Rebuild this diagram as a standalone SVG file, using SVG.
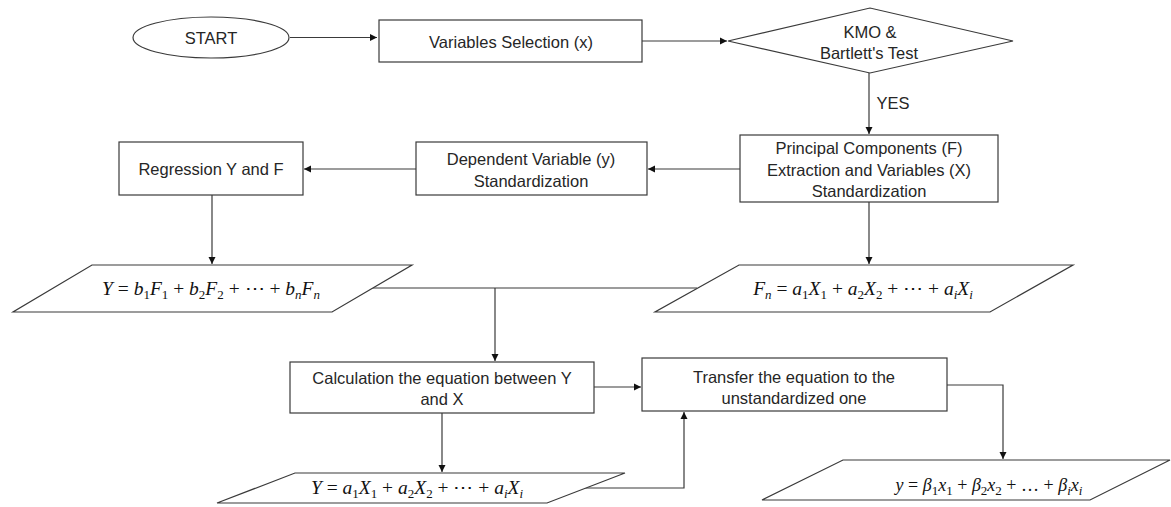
<svg xmlns="http://www.w3.org/2000/svg" width="1171" height="507" viewBox="0 0 1171 507">
<style>
.shape{fill:#fff;stroke:#3a3a3a;stroke-width:1.2}
.t{font-family:"Liberation Sans",Arial,sans-serif;font-size:16.5px;fill:#262626;text-anchor:middle;dominant-baseline:central}
.m{font-family:"Liberation Serif","Times New Roman",serif;font-size:19.5px;fill:#111;text-anchor:middle}
.i{font-style:italic}
.s{font-size:13px}
.c{fill:none;stroke:#3a3a3a;stroke-width:1.2}
</style>
<defs>
<marker id="ah" markerWidth="8" markerHeight="8" refX="7" refY="4" orient="auto" markerUnits="userSpaceOnUse">
<path d="M0,0.5 L7,4 L0,7.5 Z" fill="#111"/>
</marker>
</defs>
<rect width="1171" height="507" fill="#fff"/>
<g id="connectors">
<line class="c" x1="290" y1="37.5" x2="377" y2="37.5" marker-end="url(#ah)"/>
<line class="c" x1="642" y1="41" x2="727" y2="41" marker-end="url(#ah)"/>
<line class="c" x1="869" y1="73" x2="869" y2="134" marker-end="url(#ah)"/>
<text class="t" x="893" y="103">YES</text>
<line class="c" x1="740" y1="169" x2="648" y2="169" marker-end="url(#ah)"/>
<line class="c" x1="416" y1="169" x2="304" y2="169" marker-end="url(#ah)"/>
<line class="c" x1="212" y1="195" x2="212" y2="264" marker-end="url(#ah)"/>
<line class="c" x1="869" y1="202" x2="869" y2="264" marker-end="url(#ah)"/>
<line class="c" x1="370" y1="288" x2="697" y2="288"/>
<line class="c" x1="495" y1="288" x2="495" y2="361" marker-end="url(#ah)"/>
<line class="c" x1="594" y1="387" x2="641" y2="387" marker-end="url(#ah)"/>
<line class="c" x1="442" y1="413" x2="442" y2="472" marker-end="url(#ah)"/>
<polyline class="c" points="585,488 684,488 684,412" marker-end="url(#ah)"/>
<polyline class="c" points="947,385 1003,385 1003,459" marker-end="url(#ah)"/>
</g>
<g id="start">
<ellipse class="shape" cx="211" cy="37.5" rx="78" ry="20.5"/>
<text class="t" x="211" y="38">START</text>
</g>
<g id="variables-selection">
<rect class="shape" x="379" y="20" width="263" height="42"/>
<text class="t" x="511" y="42">Variables Selection (x)</text>
</g>
<g id="kmo-test">
<polygon class="shape" points="728,41 870,8 1013,41 870,73"/>
<text class="t" x="870" y="32">KMO &amp;</text>
<text class="t" x="869" y="53">Bartlett's Test</text>
</g>
<g id="principal-components">
<rect class="shape" x="740" y="135" width="258" height="67"/>
<text class="t" x="869" y="148">Principal Components (F)</text>
<text class="t" x="869" y="170">Extraction and Variables (X)</text>
<text class="t" x="869" y="191">Standardization</text>
</g>
<g id="dependent-variable">
<rect class="shape" x="416" y="142" width="231" height="53"/>
<text class="t" x="531" y="159">Dependent Variable (y)</text>
<text class="t" x="531" y="181">Standardization</text>
</g>
<g id="regression">
<rect class="shape" x="119" y="142" width="184" height="53"/>
<text class="t" x="211" y="169">Regression Y and F</text>
</g>
<g id="eq-y-f">
<polygon class="shape" points="92,265 412,265 332,312 13,312"/>
<text class="m" x="211" y="295"><tspan class="i">Y</tspan> = <tspan class="i">b</tspan><tspan class="s" dy="4">1</tspan><tspan class="i" dy="-4">F</tspan><tspan class="s" dy="4">1</tspan><tspan dy="-4"> + </tspan><tspan class="i">b</tspan><tspan class="s" dy="4">2</tspan><tspan class="i" dy="-4">F</tspan><tspan class="s" dy="4">2</tspan><tspan dy="-4"> + ⋯ + </tspan><tspan class="i">b</tspan><tspan class="s i" dy="4">n</tspan><tspan class="i" dy="-4">F</tspan><tspan class="s i" dy="4">n</tspan></text>
</g>
<g id="eq-fn">
<polygon class="shape" points="739,265 1073,265 990,312 655,312"/>
<text class="m" x="863" y="295"><tspan class="i">F</tspan><tspan class="s i" dy="4">n</tspan><tspan dy="-4"> = </tspan><tspan class="i">a</tspan><tspan class="s" dy="4">1</tspan><tspan class="i" dy="-4">X</tspan><tspan class="s" dy="4">1</tspan><tspan dy="-4"> + </tspan><tspan class="i">a</tspan><tspan class="s" dy="4">2</tspan><tspan class="i" dy="-4">X</tspan><tspan class="s" dy="4">2</tspan><tspan dy="-4"> + ⋯ + </tspan><tspan class="i">a</tspan><tspan class="s i" dy="4">i</tspan><tspan class="i" dy="-4">X</tspan><tspan class="s i" dy="4">i</tspan></text>
</g>
<g id="calculation">
<rect class="shape" x="290" y="362" width="304" height="51"/>
<text class="t" x="442" y="378">Calculation the equation between Y</text>
<text class="t" x="442" y="399">and X</text>
</g>
<g id="transfer">
<rect class="shape" x="642" y="358" width="305" height="53"/>
<text class="t" x="794" y="377">Transfer the equation to the</text>
<text class="t" x="794" y="398">unstandardized one</text>
</g>
<g id="eq-y-x">
<polygon class="shape" points="295,473 625,473 547,503 217,503"/>
<text class="m" x="417" y="494"><tspan class="i">Y</tspan> = <tspan class="i">a</tspan><tspan class="s" dy="4">1</tspan><tspan class="i" dy="-4">X</tspan><tspan class="s" dy="4">1</tspan><tspan dy="-4"> + </tspan><tspan class="i">a</tspan><tspan class="s" dy="4">2</tspan><tspan class="i" dy="-4">X</tspan><tspan class="s" dy="4">2</tspan><tspan dy="-4"> + ⋯ + </tspan><tspan class="i">a</tspan><tspan class="s i" dy="4">i</tspan><tspan class="i" dy="-4">X</tspan><tspan class="s i" dy="4">i</tspan></text>
</g>
<g id="eq-unstandardized">
<polygon class="shape" points="843,460 1170,460 1090,500 762,500"/>
<text class="m" x="989" y="491" style="font-size:18px"><tspan class="i">y</tspan> = <tspan class="i">β</tspan><tspan class="s" dy="4">1</tspan><tspan class="i" dy="-4">x</tspan><tspan class="s" dy="4">1</tspan><tspan dy="-4"> + </tspan><tspan class="i">β</tspan><tspan class="s" dy="4">2</tspan><tspan class="i" dy="-4">x</tspan><tspan class="s" dy="4">2</tspan><tspan dy="-4"> + … + </tspan><tspan class="i">β</tspan><tspan class="s i" dy="4">i</tspan><tspan class="i" dy="-4">x</tspan><tspan class="s i" dy="4">i</tspan></text>
</g>
</svg>
